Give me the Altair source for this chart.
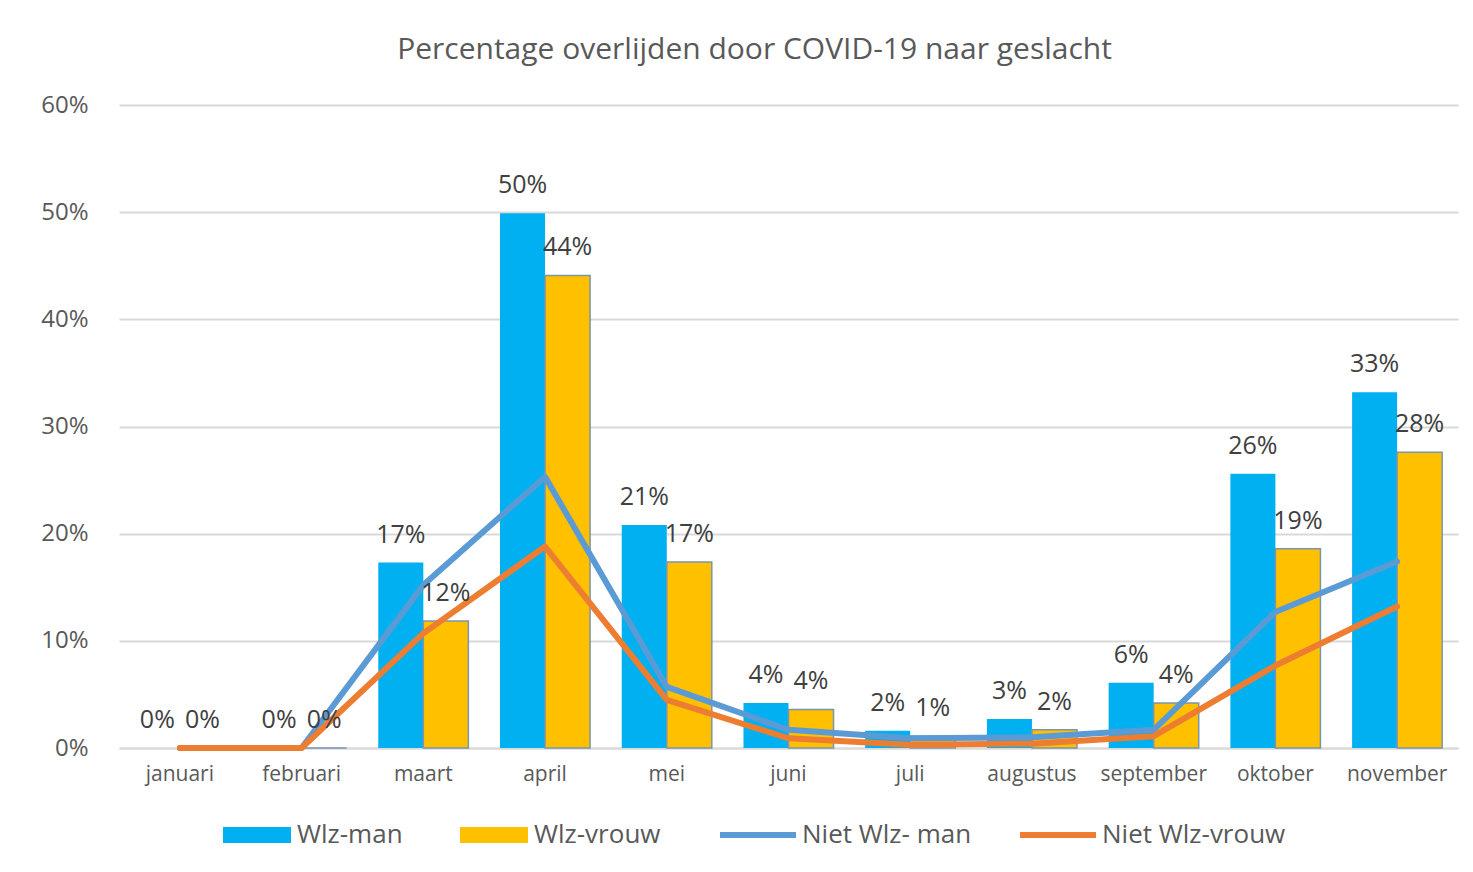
import altair as alt
import pandas as pd

maanden = ["januari", "februari", "maart", "april", "mei", "juni", "juli",
           "augustus", "september", "oktober", "november"]
wlz_man = [0.0, 0.0, 0.173, 0.499, 0.208, 0.042, 0.016, 0.027, 0.061, 0.256, 0.332]
wlz_vrouw = [0.0, 0.0, 0.1185, 0.441, 0.1735, 0.036, 0.011, 0.017, 0.042, 0.186, 0.276]
niet_wlz_man = [0.0, 0.0, 0.152, 0.253, 0.057, 0.017, 0.009, 0.010, 0.017, 0.127, 0.174]
niet_wlz_vrouw = [0.0, 0.0, 0.107, 0.188, 0.045, 0.009, 0.003, 0.004, 0.011, 0.077, 0.132]

bar_series = ["Wlz-man", "Wlz-vrouw"]
line_series = ["Niet Wlz- man", "Niet Wlz-vrouw"]

bars_df = pd.DataFrame(
    [{"maand": m, "serie": bar_series[0], "waarde": v} for m, v in zip(maanden, wlz_man)]
    + [{"maand": m, "serie": bar_series[1], "waarde": v} for m, v in zip(maanden, wlz_vrouw)]
)
lines_df = pd.DataFrame(
    [{"maand": m, "lijn": line_series[0], "waarde": v} for m, v in zip(maanden, niet_wlz_man)]
    + [{"maand": m, "lijn": line_series[1], "waarde": v} for m, v in zip(maanden, niet_wlz_vrouw)]
)

FONT = "Open Sans"
TXT = "#595959"

x_enc = alt.X(
    "maand:N", sort=maanden, title=None,
    scale=alt.Scale(paddingInner=0.26, paddingOuter=0.13),
    axis=alt.Axis(labelAngle=0, labelFontSize=21, labelColor=TXT, labelFont=FONT,
                  labelPadding=15, ticks=False, domainColor="#d9d9d9", domainWidth=2,
                  grid=False),
)
y_enc = alt.Y(
    "waarde:Q", title=None,
    scale=alt.Scale(domain=[0, 0.6], nice=False),
    axis=alt.Axis(values=[0, 0.1, 0.2, 0.3, 0.4, 0.5, 0.6], format=".0%",
                  labelFontSize=24, labelColor=TXT, labelFont=FONT, labelPadding=31,
                  ticks=False, domain=False, gridColor="#d9d9d9", gridWidth=2),
)
xoff = alt.XOffset("serie:N", sort=bar_series,
                   scale=alt.Scale(paddingInner=0, paddingOuter=0))

bars = alt.Chart(bars_df).mark_bar(strokeWidth=1.5).encode(
    x=x_enc,
    y=y_enc,
    xOffset=xoff,
    fill=alt.Fill(
        "serie:N", sort=bar_series,
        scale=alt.Scale(domain=bar_series, range=["#00B0F0", "#FFC000"]),
        legend=alt.Legend(
            orient="none", legendX=103, legendY=695, direction="horizontal",
            title=None, symbolType="M-1,-0.235H1V0.235H-1Z", symbolSize=4624,
            symbolOpacity=1, labelFontSize=26, labelColor=TXT, labelFont=FONT,
            columnPadding=54, labelOffset=5, padding=0, labelLimit=400,
        ),
    ),
    stroke=alt.condition(alt.datum.serie == "Wlz-vrouw", alt.value("#7a95ad"),
                         alt.value("transparent")),
)

lines = alt.Chart(lines_df).mark_line(strokeWidth=6, strokeJoin="round",
                                      strokeCap="round").encode(
    x=alt.X("maand:N", sort=maanden),
    y=alt.Y("waarde:Q"),
    color=alt.Color(
        "lijn:N", sort=line_series,
        scale=alt.Scale(domain=line_series, range=["#5B9BD5", "#ED7D31"]),
        legend=alt.Legend(
            orient="none", legendX=598, legendY=689, direction="horizontal",
            title=None, symbolType="stroke", symbolSize=5776, symbolStrokeWidth=6,
            labelFontSize=26, labelColor=TXT, labelFont=FONT,
            columnPadding=36, labelOffset=3, padding=0, labelLimit=400,
        ),
    ),
    detail="lijn:N",
)

labels = alt.Chart(bars_df).mark_text(
    fontSize=25, font=FONT, color="#404040", baseline="alphabetic", dy=-20,
).encode(
    x=alt.X("maand:N", sort=maanden),
    y=alt.Y("waarde:Q"),
    xOffset=xoff,
    text=alt.Text("waarde:Q", format=".0%"),
)

chart = alt.layer(bars, lines, labels).properties(
    width=1339, height=643,
    title=alt.TitleParams(
        "Percentage overlijden door COVID-19 naar geslacht",
        fontSize=30, font=FONT, fontWeight="normal", color=TXT,
        anchor="middle", dx=-34, offset=4, baseline="alphabetic",
    ),
    autosize=alt.AutoSizeParams(type="none"),
    padding={"left": 111, "top": 97, "right": 5, "bottom": 110},
).configure(background="white", view=alt.ViewConfig(stroke=None))

chart.save("out.html", embed_options={"renderer": "svg", "actions": False})
